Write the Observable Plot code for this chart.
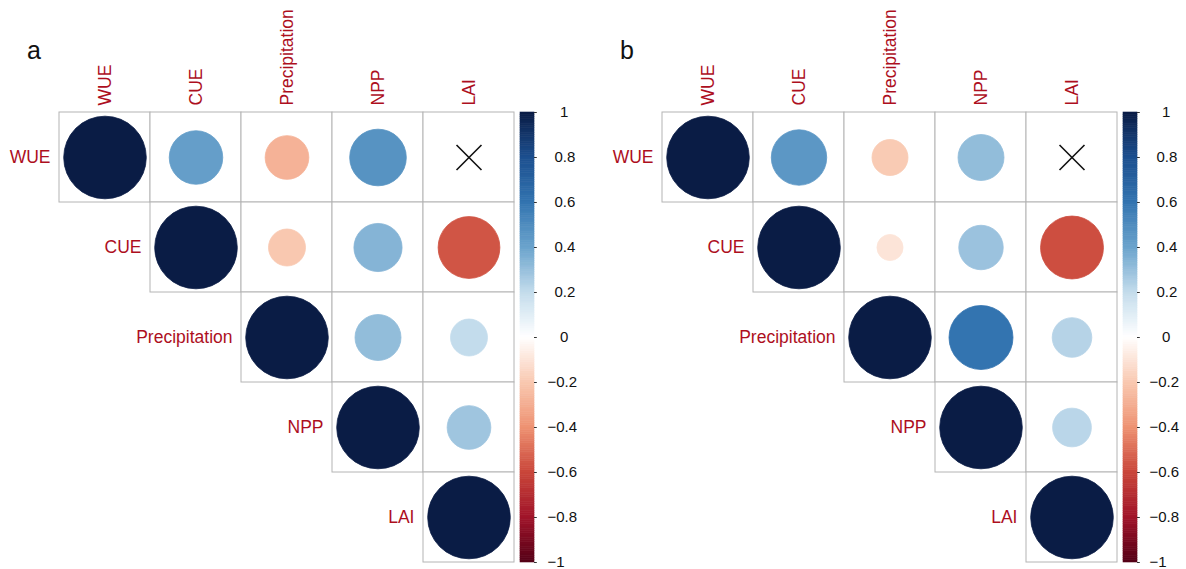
<!DOCTYPE html>
<html>
<head>
<meta charset="utf-8">
<script src="https://cdn.jsdelivr.net/npm/d3@7"></script>
<script src="https://cdn.jsdelivr.net/npm/@observablehq/plot@0.6"></script>
<style>
  html, body { margin: 0; padding: 0; background: white; }
  #wrap { position: relative; width: 1186px; height: 569px; overflow: hidden; background: white;
          font-family: "Liberation Sans", Arial, sans-serif; }
  .abs { position: absolute; top: 0; }
  .panel-label { position: absolute; font-size: 25px; line-height: 25px; color: #111; }
</style>
</head>
<body>
<div id="wrap">
  <div class="panel-label" style="left:27px; top:38px;">a</div>
  <div class="panel-label" style="left:620px; top:38px;">b</div>
  <div id="ma" class="abs" style="left:0px; width:520px;"></div>
  <div id="ca" class="abs" style="left:500px; width:86px;"></div>
  <div id="mb" class="abs" style="left:603px; width:520px;"></div>
  <div id="cb" class="abs" style="left:1103px; width:86px;"></div>
</div>
<script>
// ---- data ----
const vars = ["WUE", "CUE", "Precipitation", "NPP", "LAI"];

// Panel a: upper-triangle rows (starting at the diagonal); null = non-significant (×)
const aWUE    = [1, 0.42, -0.28, 0.47, null];
const aCUE    = [1, -0.20, 0.34, -0.56];
const aPrecip = [1, 0.31, 0.20];
const aNPP    = [1, 0.28];
const aLAI    = [1];

// Panel b
const bWUE    = [1, 0.45, -0.19, 0.31, null];
const bCUE    = [1, -0.10, 0.29, -0.58];
const bPrecip = [1, 0.60, 0.23];
const bNPP    = [1, 0.22];
const bLAI    = [1];

// colour legend ticks
const legendTicks = [1, 0.8, 0.6, 0.4, 0.2, 0, -0.2, -0.4, -0.6, -0.8, -1];

// diverging palette stops
const paletteStops = [-1, -0.8, -0.6, -0.4, -0.2, 0, 0.2, 0.4, 0.6, 0.8, 1];
const paletteColors = ["#540016", "#a0142a", "#c9463a", "#ee9272", "#f9c8b0", "#ffffff",
                       "#c3dcec", "#6aa3cc", "#3374b0", "#1c4f8f", "#0a1c45"];

const labelRed = "#ad0f1e";
const font = "Liberation Sans, Arial, sans-serif";

function buildCells(rows) {
  const out = [];
  rows.forEach((row, i) => row.forEach((v, k) => out.push({row: vars[i], col: vars[i + k], value: v})));
  return out;
}

const colorScale = {type: "linear", domain: paletteStops, range: paletteColors, interpolate: "rgb"};

function matrixPlot(rows) {
  const cells = buildCells(rows);
  const sig = cells.filter(d => d.value != null);
  const insig = cells.filter(d => d.value == null);
  return Plot.plot({
    width: 520, height: 569,
    marginLeft: 59, marginRight: 6, marginTop: 112, marginBottom: 7,
    style: {background: "transparent", overflow: "visible", fontFamily: font, maxWidth: "none"},
    x: {type: "band", domain: vars, padding: 0, axis: null},
    y: {type: "band", domain: vars, padding: 0, axis: null},
    r: {type: "sqrt", domain: [0, 1], range: [0, 41.3]},
    color: colorScale,
    marks: [
      Plot.cell(cells, {x: "col", y: "row", fill: "white", stroke: "#b4b4b4", strokeWidth: 1, inset: 0}),
      Plot.dot(sig, {x: "col", y: "row", r: d => Math.abs(d.value), fill: "value", stroke: "value", strokeWidth: 0.8}),
      Plot.dot(insig, {x: "col", y: "row", symbol: "times", r: 11.4, stroke: "#111", strokeWidth: 1.6}),
      Plot.text(vars, {x: d => d, frameAnchor: "top", rotate: -90, textAnchor: "start", lineAnchor: "middle",
                       dy: -7, fill: labelRed, fontSize: 17.5, fontFamily: font}),
      Plot.text(vars, {x: d => d, y: d => d, textAnchor: "end", dx: -54.5,
                       fill: labelRed, fontSize: 17.5, fontFamily: font})
    ]
  });
}

function fmt(v) {
  if (v === 0) return "0";
  const s = Math.abs(v).toString();
  return (v < 0 ? "\u2212" : "") + s;
}

function colorbarPlot(labelShift) {
  const steps = d3.range(200).map(i => ({y1: -1 + i * 0.01, y2: -1 + (i + 1) * 0.01}));
  return Plot.plot({
    width: 86, height: 569,
    marginLeft: 20, marginRight: 52, marginTop: 112, marginBottom: 7,
    style: {background: "transparent", overflow: "visible", fontFamily: font, maxWidth: "none"},
    x: {domain: [0, 1], axis: null},
    y: {domain: [-1, 1], axis: null},
    color: colorScale,
    marks: [
      Plot.rect(steps, {x1: 0, x2: 1, y1: "y1", y2: "y2", fill: d => (d.y1 + d.y2) / 2,
                        stroke: d => (d.y1 + d.y2) / 2, strokeWidth: 0.6}),
      Plot.ruleY(legendTicks, {y: d => d, x1: 1, x2: 1.2, stroke: "#333", strokeWidth: 1}),
      Plot.text(legendTicks.filter(d => d < 0), {y: d => d, x: 1, text: fmt, textAnchor: "start",
                dx: 13 + labelShift, fontSize: 15, fill: "#111", fontFamily: font}),
      Plot.text(legendTicks.filter(d => d > 0 && d < 1), {y: d => d, x: 1, text: fmt, textAnchor: "start",
                dx: 20 + labelShift, fontSize: 15, fill: "#111", fontFamily: font}),
      Plot.text(legendTicks.filter(d => d === 0 || d === 1), {y: d => d, x: 1, text: fmt, textAnchor: "start",
                dx: 25.5 + labelShift, fontSize: 15, fill: "#111", fontFamily: font})
    ]
  });
}

document.getElementById("ma").appendChild(matrixPlot([aWUE, aCUE, aPrecip, aNPP, aLAI]));
document.getElementById("mb").appendChild(matrixPlot([bWUE, bCUE, bPrecip, bNPP, bLAI]));
document.getElementById("ca").appendChild(colorbarPlot(0));
document.getElementById("cb").appendChild(colorbarPlot(-1));
</script>
</body>
</html>
